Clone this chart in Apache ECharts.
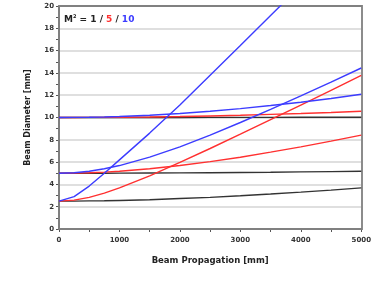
<!DOCTYPE html>
<html>
<head>
<meta charset="utf-8">
<script src="https://cdn.jsdelivr.net/npm/echarts@6/dist/echarts.min.js"></script>
<style>
  html, body { margin: 0; padding: 0; background: #fff; }
  #chart { width: 374px; height: 289px; }
</style>
</head>
<body>
<div id="chart"></div>
<script>
// beam propagation positions [mm]
const zPos = [0, 250, 500, 750, 1000, 1500, 2000, 2500, 3000, 3500, 4000, 4500, 5000]

// beam diameters [mm]
const m1_d25 = [2.5, 2.50, 2.52, 2.53, 2.56, 2.63, 2.73, 2.84, 2.98, 3.14, 3.31, 3.49, 3.69]
const m1_d5 = [5.0, 5.00, 5.00, 5.00, 5.01, 5.02, 5.03, 5.05, 5.07, 5.09, 5.12, 5.15, 5.18]
const m1_d10 = [10.0, 10.0, 10.0, 10.0, 10.0, 10.0, 10.0, 10.01, 10.01, 10.01, 10.02, 10.02, 10.02]
const m5_d25 = [2.5, 2.59, 2.84, 3.22, 3.69, 4.77, 5.97, 7.22, 8.50, 9.81, 11.12, 12.44, 13.77]
const m5_d5 = [5.0, 5.01, 5.05, 5.10, 5.18, 5.40, 5.69, 6.04, 6.44, 6.89, 7.37, 7.88, 8.42]
const m5_d10 = [10.0, 10.0, 10.01, 10.01, 10.02, 10.05, 10.09, 10.14, 10.20, 10.28, 10.36, 10.45, 10.56]
const m10_d25 = [2.5, 2.9, 3.85, 5.0, 6.2, 8.6, 11.13, 13.79, 16.46, 19.14, 21.84]
const m10_d5 = [5.0, 5.05, 5.18, 5.40, 5.69, 6.44, 7.37, 8.42, 9.55, 10.72, 11.94, 13.18, 14.44]
const m10_d10 = [10.0, 10.01, 10.02, 10.05, 10.09, 10.20, 10.36, 10.56, 10.80, 11.07, 11.37, 11.71, 12.08]

const xTicks = [0, 1000, 2000, 3000, 4000, 5000]
const yTicks = [0, 2, 4, 6, 8, 10, 12, 14, 16, 18, 20]

const BLACK = '#333333'
const RED = '#ff3030'
const BLUE = '#3c3cff'

const chart = echarts.init(document.getElementById('chart'))

const mkLine = (name, ys, color) => ({
  name,
  type: 'line',
  data: ys.map((y, i) => [zPos[i], y]),
  showSymbol: false,
  clip: true,
  lineStyle: { color, width: 1.4 },
  z: 3
})

const FONT = 'DejaVu Sans'
const axisLabelFont = { fontFamily: FONT, fontSize: 7, color: '#333', fontWeight: 'bold' }

const option = {
  animation: false,
  grid: { left: 59, right: 12, top: 6, bottom: 60 },
  xAxis: {
    type: 'value',
    min: 0,
    max: 5000,
    interval: 1000,
    name: 'Beam Propagation [mm]',
    nameLocation: 'middle',
    nameGap: 27,
    nameTextStyle: { fontFamily: FONT, fontSize: 8.5, fontWeight: 'bold', color: '#222' },
    axisLine: { lineStyle: { color: '#555', width: 1.5 } },
    axisTick: { show: true, length: 3, lineStyle: { color: '#555' } },
    minorTick: { show: true, splitNumber: 2, length: 3, lineStyle: { color: '#555' } },
    axisLabel: { ...axisLabelFont, margin: 8, formatter: v => xTicks.includes(v) ? String(v) : '' },
    splitLine: { show: false }
  },
  yAxis: {
    type: 'value',
    min: 0,
    max: 20,
    interval: 2,
    name: 'Beam Diameter [mm]',
    nameLocation: 'middle',
    nameGap: 27,
    nameTextStyle: { fontFamily: FONT, fontSize: 8, fontWeight: 'bold', color: '#222' },
    axisLine: { lineStyle: { color: '#555', width: 1.5 } },
    axisTick: { show: true, length: 3, lineStyle: { color: '#555' } },
    minorTick: { show: true, splitNumber: 2, length: 3, lineStyle: { color: '#555' } },
    axisLabel: { ...axisLabelFont, margin: 5, formatter: v => yTicks.includes(v) ? String(v) : '' },
    splitLine: { show: true, lineStyle: { color: '#d4d4d4', width: 1.5 } }
  },
  graphic: [
    {
      type: 'rect',
      shape: { x: 59, y: 6, width: 303, height: 223 },
      style: { fill: 'none', stroke: '#808080', lineWidth: 1.8 },
      silent: true,
      z: 1
    },
    {
      type: 'text',
      left: 64,
      top: 14,
      style: {
        text: '{k|M}{s|2}{k| = 1 / }{r|5}{k| / }{b|10}',
        rich: {
          k: { fontFamily: FONT, fontSize: 9, fontWeight: 'bold', fill: '#222' },
          s: { fontFamily: FONT, fontSize: 5, fontWeight: 'bold', fill: '#222', verticalAlign: 'top', padding: [0, 0, 6, 0] },
          r: { fontFamily: FONT, fontSize: 9, fontWeight: 'bold', fill: RED },
          b: { fontFamily: FONT, fontSize: 9, fontWeight: 'bold', fill: BLUE }
        }
      },
      z: 10
    }
  ],
  series: [
    mkLine('M2=1 d=2.5', m1_d25, BLACK),
    mkLine('M2=1 d=5', m1_d5, BLACK),
    mkLine('M2=1 d=10', m1_d10, BLACK),
    mkLine('M2=5 d=2.5', m5_d25, RED),
    mkLine('M2=5 d=5', m5_d5, RED),
    mkLine('M2=5 d=10', m5_d10, RED),
    mkLine('M2=10 d=2.5', m10_d25, BLUE),
    mkLine('M2=10 d=5', m10_d5, BLUE),
    mkLine('M2=10 d=10', m10_d10, BLUE)
  ]
}

chart.setOption(option)
</script>
</body>
</html>
